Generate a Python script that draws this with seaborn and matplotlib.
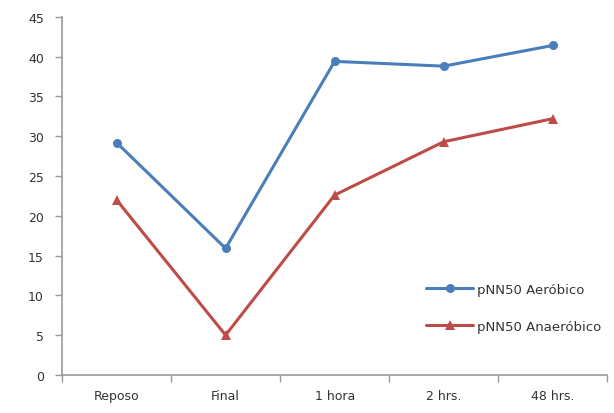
import matplotlib
matplotlib.use("Agg")
import matplotlib.pyplot as plt
import seaborn as sns
import pandas as pd
import numpy as np

categorias = ["Reposo", "Final", "1 hora", "2 hrs.", "48 hrs."]
aerobico = [29.2, 15.9, 39.4, 38.8, 41.4]
anaerobico = [22.0, 5.0, 22.6, 29.3, 32.2]
series = ["pNN50 Aeróbico", "pNN50 Anaeróbico"]
y_ticks = [0, 5, 10, 15, 20, 25, 30, 35, 40, 45]

df = pd.DataFrame({
    "pos": list(range(len(categorias))) * 2,
    "valor": aerobico + anaerobico,
    "serie": [series[0]] * len(categorias) + [series[1]] * len(categorias),
})

sns.set_style("white")
plt.rcParams["font.family"] = ["DejaVu Sans"]

fig = plt.figure(figsize=(6.14, 4.14), dpi=100)
ax = fig.add_axes([0.101, 0.092, 0.888, 0.865])

colores = {series[0]: "#4A7EBB", series[1]: "#BE4B48"}
marcadores = {series[0]: "o", series[1]: "^"}
sns.lineplot(data=df, x="pos", y="valor", hue="serie", style="serie",
             palette=colores, markers=marcadores, dashes=False,
             linewidth=2.2, markersize=6.5, markeredgewidth=0, ax=ax)

ax.set_xlim(-0.5, len(categorias) - 0.5)
ax.set_ylim(0, 45)
ax.set_yticks(y_ticks)
ax.set_xticks(range(len(categorias)))
ax.set_xticklabels(categorias)
ax.set_xticks(np.arange(-0.5, len(categorias), 1.0), minor=True)
ax.tick_params(axis="x", which="major", bottom=False, length=0, pad=10, labelsize=9, colors="#333333")
ax.tick_params(axis="x", which="minor", bottom=True, length=5, width=1, color="#999999", direction="out")
ax.tick_params(axis="y", which="major", left=True, length=5, width=1, color="#999999", direction="out",
               labelsize=9, labelcolor="#333333", pad=8)
ax.set_xlabel("")
ax.set_ylabel("")

for s in ["top", "right"]:
    ax.spines[s].set_visible(False)
for s in ["left", "bottom"]:
    ax.spines[s].set_color("#999999")
    ax.spines[s].set_linewidth(1.2)

leg = ax.legend(loc="lower right", bbox_to_anchor=(1.01, 0.085), frameon=False,
                fontsize=9.5, handlelength=3.6, labelspacing=1.8, handletextpad=0.25)
for t in leg.get_texts():
    t.set_color("#333333")

fig.savefig("out.png", dpi=100, facecolor="white")
